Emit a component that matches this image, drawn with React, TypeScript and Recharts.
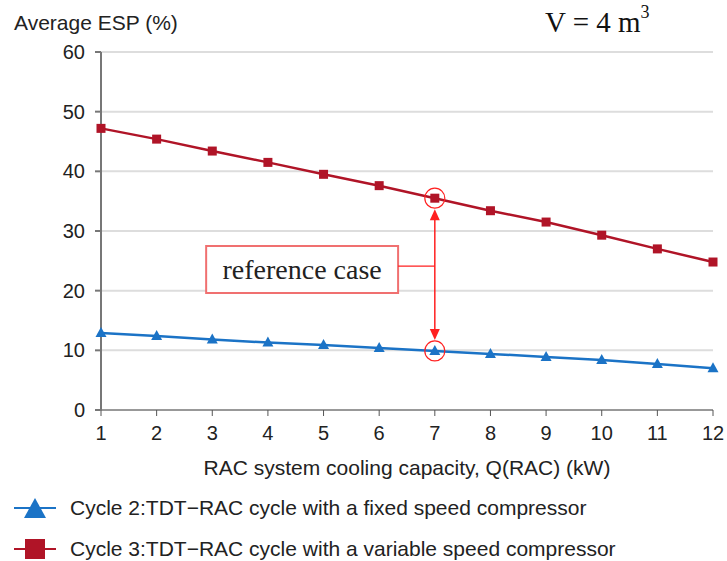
import { LineChart, Line, XAxis, YAxis, CartesianGrid, ReferenceDot, ReferenceLine, ReferenceArea } from 'recharts';

const capacity = [1, 2, 3, 4, 5, 6, 7, 8, 9, 10, 11, 12];
const cycle2 = [12.9, 12.4, 11.8, 11.3, 10.9, 10.4, 9.9, 9.4, 8.9, 8.4, 7.7, 7.0];
const cycle3 = [47.2, 45.4, 43.4, 41.5, 39.5, 37.6, 35.5, 33.4, 31.5, 29.3, 27.0, 24.8];
const yTicks = [0, 10, 20, 30, 40, 50, 60];

const cycle2Name = 'Cycle 2:TDT\u2212RAC cycle with a fixed speed compressor';
const cycle3Name = 'Cycle 3:TDT\u2212RAC cycle with a variable speed compressor';

// reference case annotation (x = 7 kW)
const refX = 7;
const refBox = { x1: 2.89, x2: 6.34, y1: 19.6, y2: 27.5 };
const refLinkY = 24.1;

const data = capacity.map((q, i) => ({ q, c2: cycle2[i], c3: cycle3[i] }));

const RED = '#b01427';
const BLUE = '#1b73c6';
const ANNO = '#ff2020';
const font = '"Liberation Sans", Arial, sans-serif';
const serif = '"Liberation Serif", "Times New Roman", serif';

const Square = (props: any) => {
  const { cx, cy } = props;
  return <rect x={cx - 4.5} y={cy - 4.5} width={9} height={9} fill={RED} />;
};

const Triangle = (props: any) => {
  const { cx, cy } = props;
  return <polygon points={`${cx},${cy - 6} ${cx - 5.5},${cy + 4} ${cx + 5.5},${cy + 4}`} fill={BLUE} />;
};

const DoubleArrow = (props: any) => {
  const { x1, y1, x2, y2 } = props;
  if (x1 == null) return null;
  const top = Math.min(y1, y2) + 11;
  const bot = Math.max(y1, y2) - 11;
  return (
    <g>
      <line x1={x1} y1={top + 8} x2={x2} y2={bot - 8} stroke={ANNO} strokeWidth={1.5} />
      <polygon points={`${x1},${top} ${x1 - 5},${top + 11} ${x1 + 5},${top + 11}`} fill={ANNO} />
      <polygon points={`${x1},${bot} ${x1 - 5},${bot - 11} ${x1 + 5},${bot - 11}`} fill={ANNO} />
    </g>
  );
};

const LegendRow = ({ color, square, label, top }: any) => (
  <div style={{ position: 'absolute', left: 12, top, display: 'flex', alignItems: 'center', height: 30, fontFamily: font, fontSize: 21, color: '#222', whiteSpace: 'nowrap' }}>
    <svg width={58} height={26}>
      <line x1={2} y1={13} x2={44} y2={13} stroke={color} strokeWidth={2} />
      {square ? (
        <rect x={13} y={3} width={20} height={20} fill={color} />
      ) : (
        <polygon points="23,3 12,23 34,23" fill={color} />
      )}
    </svg>
    <span>{label}</span>
  </div>
);

export default function App() {
  return (
    <div style={{ position: 'absolute', left: 0, top: 0, width: 727, height: 561, background: '#fff' }}>
      <div style={{ position: 'absolute', left: 14, top: 11, fontFamily: font, fontSize: 21, color: '#222', whiteSpace: 'nowrap' }}>
        Average ESP (%)
      </div>
      <div style={{ position: 'absolute', left: 545, top: 6, fontFamily: serif, fontSize: 29, color: '#111', whiteSpace: 'nowrap' }}>
        V = 4 m<sup style={{ fontSize: 18, verticalAlign: 'top', position: 'relative', top: -4 }}>3</sup>
      </div>
      <div style={{ position: 'absolute', left: 0, top: 456, width: 814, textAlign: 'center', fontFamily: font, fontSize: 21, color: '#222' }}>
        RAC system cooling capacity, Q(RAC) (kW)
      </div>
      <LegendRow color={BLUE} label={cycle2Name} top={493} />
      <LegendRow color={RED} square label={cycle3Name} top={534} />
      <div style={{ position: 'absolute', left: 0, top: 0 }}>
        <LineChart width={727} height={561} data={data} margin={{ top: 52, right: 14, bottom: 111, left: 51 }}>
          <CartesianGrid vertical={false} stroke="#dddddd" strokeWidth={2} />
          <XAxis
            dataKey="q"
            type="number"
            domain={[1, 12]}
            ticks={capacity}
            height={40}
            stroke="#555"
            tickSize={6}
            tickMargin={10}
            tick={{ fill: '#222', fontSize: 20, fontFamily: font }}
          />
          <YAxis
            domain={[0, 60]}
            ticks={yTicks}
            width={50}
            stroke="#777"
            strokeWidth={2}
            tickSize={6}
            tickMargin={10}
            tick={{ fill: '#222', fontSize: 20, fontFamily: font }}
          />
          <Line dataKey="c3" name={cycle3Name} stroke={RED} strokeWidth={2.5} dot={<Square />} isAnimationActive={false} />
          <Line dataKey="c2" name={cycle2Name} stroke={BLUE} strokeWidth={2.5} dot={<Triangle />} isAnimationActive={false} />
          <ReferenceDot x={refX} y={cycle3[6]} r={10} fill="none" stroke={ANNO} strokeWidth={1.2} />
          <ReferenceDot x={refX} y={cycle2[6]} r={10} fill="none" stroke={ANNO} strokeWidth={1.2} />
          <ReferenceLine segment={[{ x: refX, y: cycle3[6] }, { x: refX, y: cycle2[6] }]} shape={<DoubleArrow />} />
          <ReferenceLine segment={[{ x: refBox.x2, y: refLinkY }, { x: refX, y: refLinkY }]} stroke={ANNO} strokeWidth={1.2} />
          <ReferenceArea
            x1={refBox.x1}
            x2={refBox.x2}
            y1={refBox.y1}
            y2={refBox.y2}
            fill="#fff"
            fillOpacity={1}
            stroke="#f07070"
            strokeWidth={2}
            label={{ value: 'reference case', position: 'center', fill: '#222', fontSize: 28, fontFamily: serif }}
          />
        </LineChart>
      </div>
    </div>
  );
}
